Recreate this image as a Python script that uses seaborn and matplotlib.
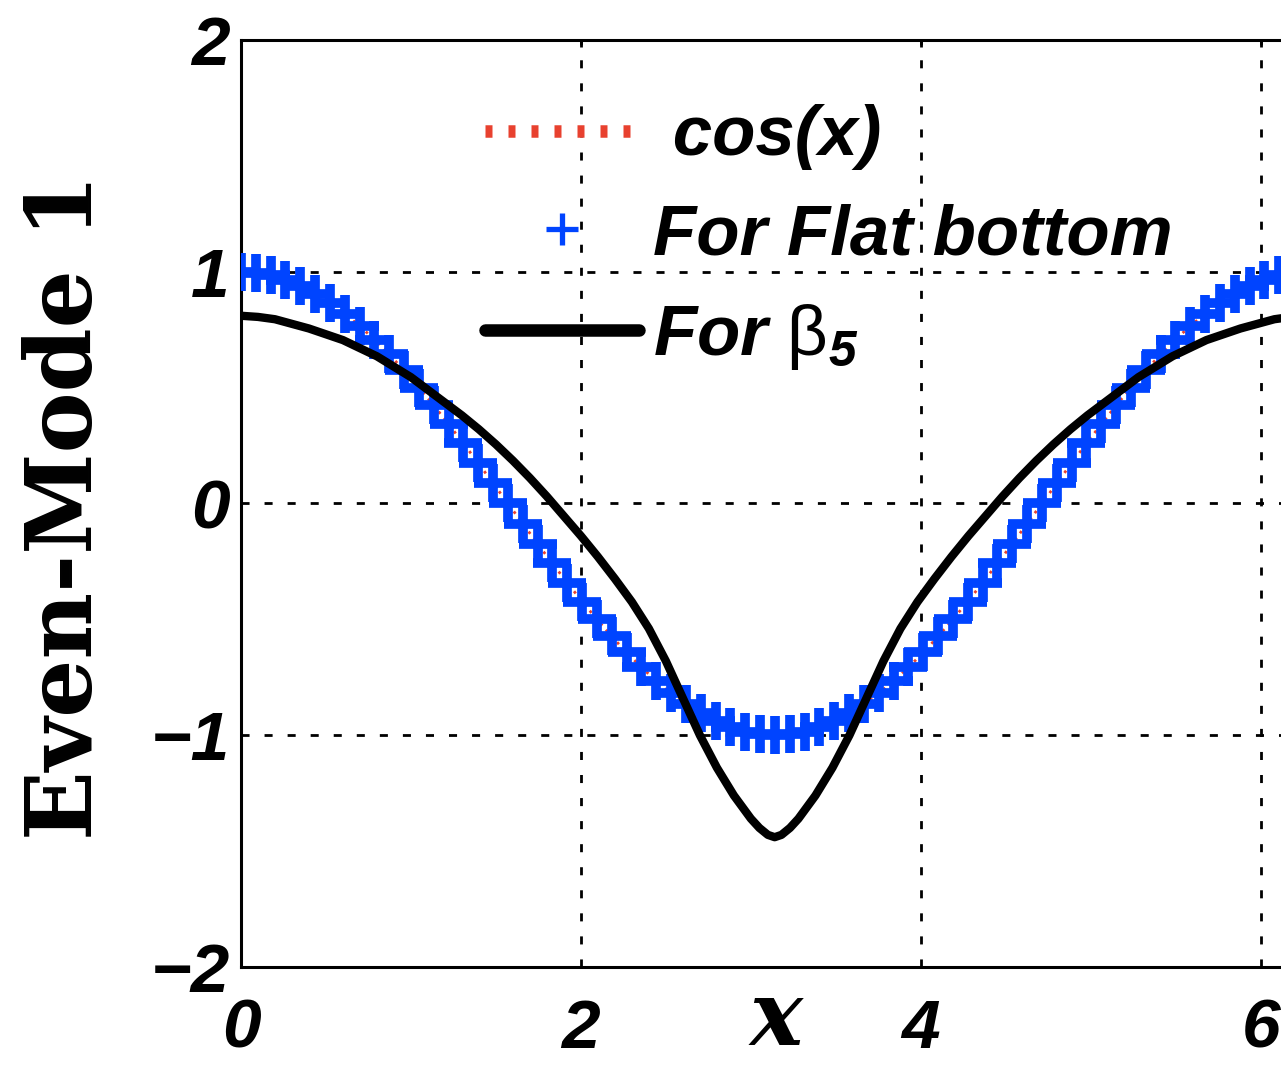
import numpy as np
import matplotlib
matplotlib.use("Agg")
import matplotlib.pyplot as plt
import seaborn as sns

# Sample grid (every 5 degrees over one period)
angle_deg = np.arange(0, 365, 5)
flat_x = np.deg2rad(angle_deg)
# Even mode for the flat-bottom case (coincides with cos(x))
flat_y = [1.000, 0.996, 0.985, 0.966, 0.940, 0.906, 0.866, 0.819, 0.766, 0.707,
          0.643, 0.574, 0.500, 0.423, 0.342, 0.259, 0.174, 0.087, 0.000,
          -0.087, -0.174, -0.259, -0.342, -0.423, -0.500, -0.574, -0.643, -0.707,
          -0.766, -0.819, -0.866, -0.906, -0.940, -0.966, -0.985, -0.996, -1.000,
          -0.996, -0.985, -0.966, -0.940, -0.906, -0.866, -0.819, -0.766, -0.707,
          -0.643, -0.574, -0.500, -0.423, -0.342, -0.259, -0.174, -0.087, 0.000,
          0.087, 0.174, 0.259, 0.342, 0.423, 0.500, 0.574, 0.643, 0.707,
          0.766, 0.819, 0.866, 0.906, 0.940, 0.966, 0.985, 0.996, 1.000]

# Even mode for the beta_5 profile
beta_x = [0.00, 0.10, 0.20, 0.30, 0.40, 0.50, 0.60, 0.70, 0.80, 0.90, 1.00,
          1.10, 1.20, 1.30, 1.40, 1.50, 1.60, 1.70, 1.80, 1.90, 2.00,
          2.10, 2.20, 2.30, 2.40, 2.50, 2.60, 2.70, 2.80, 2.90, 3.00,
          3.05, 3.10, 3.14, 3.18, 3.23, 3.28,
          3.38, 3.48, 3.58, 3.68, 3.78, 3.88, 3.98, 4.08, 4.18, 4.28,
          4.38, 4.48, 4.58, 4.68, 4.78, 4.88, 4.98, 5.08, 5.18, 5.28,
          5.38, 5.48, 5.58, 5.68, 5.78, 5.88, 5.98, 6.08, 6.18, 6.28]
beta_y = [0.810, 0.805, 0.795, 0.775, 0.755, 0.730, 0.705, 0.670, 0.635, 0.590, 0.545,
          0.490, 0.435, 0.380, 0.320, 0.255, 0.185, 0.110, 0.030, -0.055, -0.140,
          -0.230, -0.325, -0.425, -0.540, -0.680, -0.840, -1.000, -1.140, -1.260, -1.360,
          -1.400, -1.430, -1.440, -1.430, -1.400, -1.360,
          -1.260, -1.140, -1.000, -0.840, -0.680, -0.540, -0.425, -0.325, -0.230, -0.140,
          -0.055, 0.030, 0.110, 0.185, 0.255, 0.320, 0.380, 0.435, 0.490, 0.545,
          0.590, 0.635, 0.670, 0.705, 0.730, 0.755, 0.775, 0.795, 0.805, 0.810]

x_ticks = [0, 2, 4, 6]
y_ticks = [-2, -1, 0, 1, 2]

RED = "#E8412F"
BLUE = "#0044FF"

sns.set_style("white")
plt.rcParams["font.family"] = ["Liberation Sans", "DejaVu Sans"]
plt.rcParams["text.color"] = "black"
plt.rcParams["axes.labelcolor"] = "black"
plt.rcParams["xtick.color"] = "black"
plt.rcParams["ytick.color"] = "black"
plt.rcParams["mathtext.fontset"] = "custom"
plt.rcParams["mathtext.rm"] = "Liberation Sans:bold:italic"
plt.rcParams["mathtext.it"] = "Liberation Sans:bold:italic"
plt.rcParams["mathtext.bf"] = "Liberation Sans:bold"
plt.rcParams["mathtext.sf"] = "Liberation Sans"

fig = plt.figure(figsize=(12.81, 10.66), dpi=100)
ax = fig.add_axes([0.1881, 0.0929, 0.8337, 0.8696])

sns.lineplot(x=flat_x, y=flat_y, ax=ax, color=RED, linestyle=(0, (1, 2)),
             linewidth=2, label=" cos(x)", zorder=2)
sns.lineplot(x=flat_x, y=flat_y, ax=ax, color=BLUE, marker="+",
             markeredgecolor=BLUE, linestyle="none",
             label="For Flat bottom", zorder=3)
sns.lineplot(x=beta_x, y=beta_y, ax=ax, color="black", linewidth=6,
             solid_joinstyle="round", label=r"For $\mathsf{\beta}_{5}$", zorder=4)

# heavy "+" markers for the flat-bottom series
flat_line = ax.lines[1]
flat_line.set_markersize(27)
flat_line.set_markeredgewidth(7)

ax.set_xlim(0, 2 * np.pi)
ax.set_ylim(-2, 2)
ax.set_xticks(x_ticks)
ax.set_yticks(y_ticks)
ax.grid(True, color="black", linestyle=(0, (2.9, 5.4)), linewidth=2)
ax.set_axisbelow(True)

for s in ax.spines.values():
    s.set_linewidth(2.2)
    s.set_color("black")

ax.tick_params(axis="both", direction="in", length=5, width=2, top=True, right=True,
               labelsize=50, colors="black")
ax.tick_params(axis="x", pad=22)
ax.tick_params(axis="y", pad=8)
for lab in ax.get_xticklabels() + ax.get_yticklabels():
    lab.set_fontfamily("Liberation Sans")
    lab.set_fontweight("bold")
    lab.set_fontstyle("italic")

ax.set_xlabel("x", fontfamily="DejaVu Serif", fontweight="bold", fontstyle="italic",
              fontsize=64, va="center", color="black")
ax.xaxis.set_label_coords(0.501, -0.057)
ax.set_ylabel("Even-Mode 1", fontfamily="DejaVu Serif", fontweight="bold", fontsize=66,
              va="center", color="black")
ax.yaxis.set_label_coords(-0.163, 0.496)

handles, labels = ax.get_legend_handles_labels()
leg = ax.legend(handles, labels, loc="upper left", bbox_to_anchor=(0.3786, 0.902),
                bbox_transform=fig.transFigure, frameon=False, borderpad=0,
                borderaxespad=0, handlelength=2.17, handletextpad=0.2, labelspacing=0.46,
                labelcolor="black",
                prop={"family": "Liberation Sans", "weight": "bold", "style": "italic",
                      "size": 51})
lines = leg.get_lines()
lines[0].set_linewidth(9)
lines[0].set_linestyle((0, (0.56, 1.28)))
lines[1].set_markersize(23)
lines[1].set_markeredgewidth(3.8)
lines[2].set_linewidth(9)

fig.savefig("out.png", dpi=100)
